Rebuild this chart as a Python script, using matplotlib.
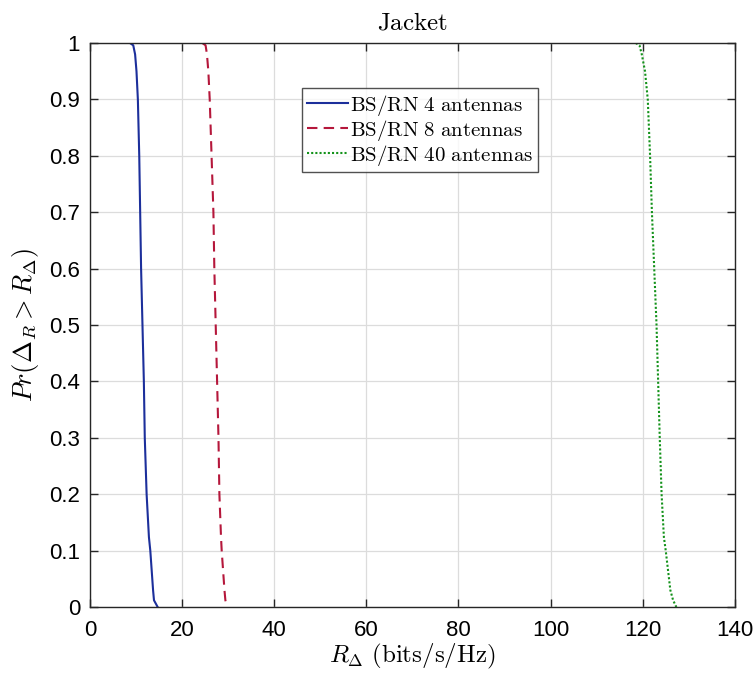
import matplotlib
matplotlib.use("Agg")
import matplotlib.pyplot as plt

plt.rcParams['mathtext.fontset'] = 'cm'
plt.rcParams['font.family'] = ['Liberation Sans', 'DejaVu Sans']

# Empirical CCDF samples: rate (bits/s/Hz) vs probability
prob = [1.0, 0.996, 0.98, 0.95, 0.9, 0.8, 0.7, 0.6, 0.5, 0.4, 0.3, 0.2, 0.124, 0.1, 0.065, 0.03, 0.012, 0.0]
rate_4 = [8.7, 9.4, 9.8, 10.1, 10.4, 10.7, 10.9, 11.1, 11.4, 11.7, 11.9, 12.3, 12.8, 13.1, 13.4, 13.7, 13.9, 14.7]
rate_8 = [24.4, 25.1, 25.4, 25.7, 26.0, 26.4, 26.8, 27.0, 27.3, 27.6, 27.9, 28.1, 28.45, 28.6, 28.9, 29.2, 29.4, 29.8]
rate_40 = [118.5, 119.3, 119.8, 120.5, 121.1, 121.6, 122.0, 122.5, 123.0, 123.35, 123.7, 124.1, 124.6, 125.0, 125.5, 126.0, 126.6, 127.3]

labels = [r'$\mathrm{BS/RN\ 4\ antennas}$',
          r'$\mathrm{BS/RN\ 8\ antennas}$',
          r'$\mathrm{BS/RN\ 40\ antennas}$']

xticks = [0, 20, 40, 60, 80, 100, 120, 140]
yticks = [0, 0.1, 0.2, 0.3, 0.4, 0.5, 0.6, 0.7, 0.8, 0.9, 1]
ytick_labels = ['0', '0.1', '0.2', '0.3', '0.4', '0.5', '0.6', '0.7', '0.8', '0.9', '1']

fig = plt.figure(figsize=(7.56, 6.73), dpi=100)
ax = fig.add_axes([0.119, 0.098, 0.853, 0.838])

ax.plot(rate_4, prob, color='#1c2f9b', lw=1.5, ls='-', label=labels[0])
ax.plot(rate_8, prob, color='#b5173b', lw=1.5, ls=(0, (5, 3)), label=labels[1])
ax.plot(rate_40, prob, color='#13921a', lw=1.5, ls=(0, (1, 1)), label=labels[2])

ax.set_xlim(0, 140)
ax.set_ylim(0, 1)
ax.set_xticks(xticks)
ax.set_yticks(yticks)
ax.set_yticklabels(ytick_labels)
ax.tick_params(direction='in', length=6, width=1, colors='#262626', labelsize=16,
               top=True, right=True)
ax.tick_params(axis='x', pad=9)
ax.tick_params(axis='y', pad=7)
ax.tick_params(labelcolor='black')
ax.grid(True, color='#dcdcdc', lw=0.9)
ax.set_axisbelow(True)
for s in ax.spines.values():
    s.set_color('#262626')
    s.set_linewidth(1.0)

ax.set_title(r'$\mathrm{Jacket}$', fontsize=18, pad=10)
ax.set_xlabel(r'$R_\Delta\ \mathrm{(bits/s/Hz)}$', fontsize=18, labelpad=1)
ax.set_ylabel(r'$Pr(\Delta_R > R_\Delta)$', fontsize=19, labelpad=6)

leg = ax.legend(loc='upper left', bbox_to_anchor=(0.329, 0.92), borderaxespad=0,
                fontsize=15, frameon=True, fancybox=False, edgecolor='#262626',
                handlelength=2.0, handletextpad=0.1, borderpad=0.22, labelspacing=0.0)
leg.get_frame().set_linewidth(1.0)

fig.savefig('out.png', dpi=100)
